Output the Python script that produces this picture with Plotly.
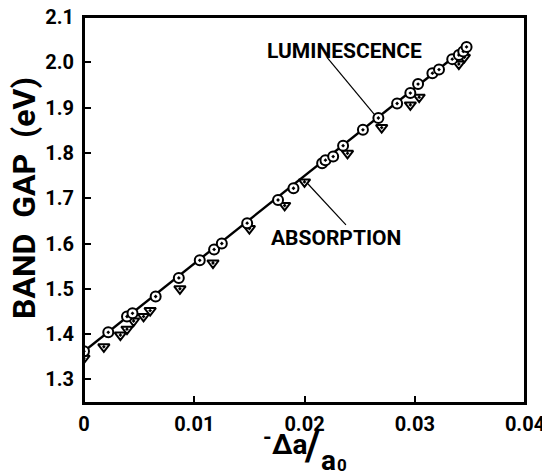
import plotly.graph_objects as go

# Luminescence (circles)
lum_x = [0.0000, 0.0022, 0.0039, 0.0044, 0.0065, 0.0086, 0.0105, 0.0118, 0.0125,
         0.0148, 0.0176, 0.0190, 0.0216, 0.0219, 0.0226, 0.0235, 0.0253, 0.0267,
         0.0284, 0.0296, 0.0303, 0.0316, 0.0322, 0.0334, 0.0340, 0.0344, 0.0347]
lum_y = [1.362, 1.404, 1.439, 1.446, 1.483, 1.524, 1.563, 1.587, 1.600,
         1.645, 1.696, 1.722, 1.777, 1.784, 1.792, 1.816, 1.851, 1.877,
         1.909, 1.932, 1.952, 1.976, 1.984, 2.007, 2.016, 2.024, 2.034]

# Absorption (triangles)
abs_x = [0.0000, 0.0018, 0.0033, 0.0039, 0.0045, 0.0054, 0.0060, 0.0087, 0.0117,
         0.0150, 0.0182, 0.0200, 0.0239, 0.0270, 0.0296, 0.0304, 0.0340, 0.0345]
abs_y = [1.347, 1.372, 1.398, 1.411, 1.429, 1.439, 1.452, 1.500, 1.557,
         1.633, 1.684, 1.736, 1.799, 1.856, 1.906, 1.923, 1.996, 2.011]

# Fitted line
fit_x = [0.0, 0.0348]
fit_y = [1.362, 2.036]

x_ticks = [0, 0.01, 0.02, 0.03, 0.04]
x_tick_labels = ["0", "0.01", "0.02", "0.03", "0.04"]
y_ticks = [1.3, 1.4, 1.5, 1.6, 1.7, 1.8, 1.9, 2.0, 2.1]
y_tick_labels = ["1.3", "1.4", "1.5", "1.6", "1.7", "1.8", "1.9", "2.0", "2.1"]

FONT = "Roboto"

fig = go.Figure()
fig.add_trace(go.Scatter(x=fit_x, y=fit_y, mode="lines",
                         line=dict(color="black", width=2.4), showlegend=False))
fig.add_trace(go.Scatter(x=abs_x, y=abs_y, mode="markers", showlegend=False,
                         marker=dict(symbol="triangle-down-dot", size=10, color="white",
                                     line=dict(color="black", width=2))))
fig.add_trace(go.Scatter(x=lum_x, y=lum_y, mode="markers", showlegend=False,
                         marker=dict(symbol="circle-dot", size=10, color="white",
                                     line=dict(color="black", width=2))))

W, H = 542, 474
L, R, T, B = 84, 17, 17, 71
pw, ph = W - L - R, H - T - B

def px(xp):
    return (xp - L) / pw

def py(yp):
    return (H - B - yp) / ph

axis_common = dict(showgrid=False, zeroline=False, showline=True, linecolor="black",
                   linewidth=2, mirror=True, ticks="inside", ticklen=7, tickwidth=2,
                   tickcolor="black", automargin=False, ticklabeloverflow="allow")

fig.update_layout(
    width=W, height=H,
    margin=dict(l=L, r=R, t=T, b=B, autoexpand=False),
    paper_bgcolor="white", plot_bgcolor="white",
    font=dict(family=FONT, color="black"),
    xaxis=dict(range=[0, 0.04], tickvals=x_ticks, ticktext=x_tick_labels,
               tickfont=dict(size=20, family=FONT, weight="bold"), ticklabelstandoff=2,
               **axis_common),
    yaxis=dict(range=[1.248, 2.1], tickvals=y_ticks, ticktext=y_tick_labels,
               tickfont=dict(size=20, family=FONT, weight="bold"), ticklabelstandoff=4,
               **axis_common),
)

# Frame
fig.add_shape(type="rect", xref="paper", yref="paper", x0=0, y0=0, x1=1, y1=1,
              line=dict(color="black", width=2), layer="above")

# Pointer lines
fig.add_shape(type="line", x0=0.02204, y0=2.011, x1=0.02633, y1=1.885,
              line=dict(color="black", width=1.2))
fig.add_shape(type="line", x0=0.0203, y0=1.732, x1=0.02376, y1=1.641,
              line=dict(color="black", width=1.2))

ann = dict(xref="paper", yref="paper", showarrow=False, xanchor="center", yanchor="middle")

fig.add_annotation(text="LUMINESCENCE", x=px(344), y=py(51),
                   font=dict(size=21, family=FONT, weight="bold"), **ann)
fig.add_annotation(text="ABSORPTION", x=px(336), y=py(238),
                   font=dict(size=21, family=FONT, weight="bold"), **ann)

# y-axis title
fig.add_annotation(text="BAND  GAP  (eV)", x=px(24), y=py(198), textangle=-90,
                   font=dict(size=32, family=FONT, weight="bold"), **ann)

# x-axis title as a slanted fraction
fig.add_annotation(text="-", x=px(267), y=py(437),
                   font=dict(size=22, family=FONT, weight="bold"), **ann)
fig.add_annotation(text="Δa", x=px(289), y=py(444),
                   font=dict(size=28, family=FONT, weight="bold"), **ann)
fig.add_annotation(text="/", x=px(312), y=py(446),
                   font=dict(size=40, family=FONT, weight="bold"), **ann)
fig.add_annotation(text="a", x=px(328), y=py(460),
                   font=dict(size=28, family=FONT, weight="bold"), **ann)
fig.add_annotation(text="0", x=px(342), y=py(465),
                   font=dict(size=17, family=FONT, weight="bold"), **ann)

fig.write_html("out.html")
